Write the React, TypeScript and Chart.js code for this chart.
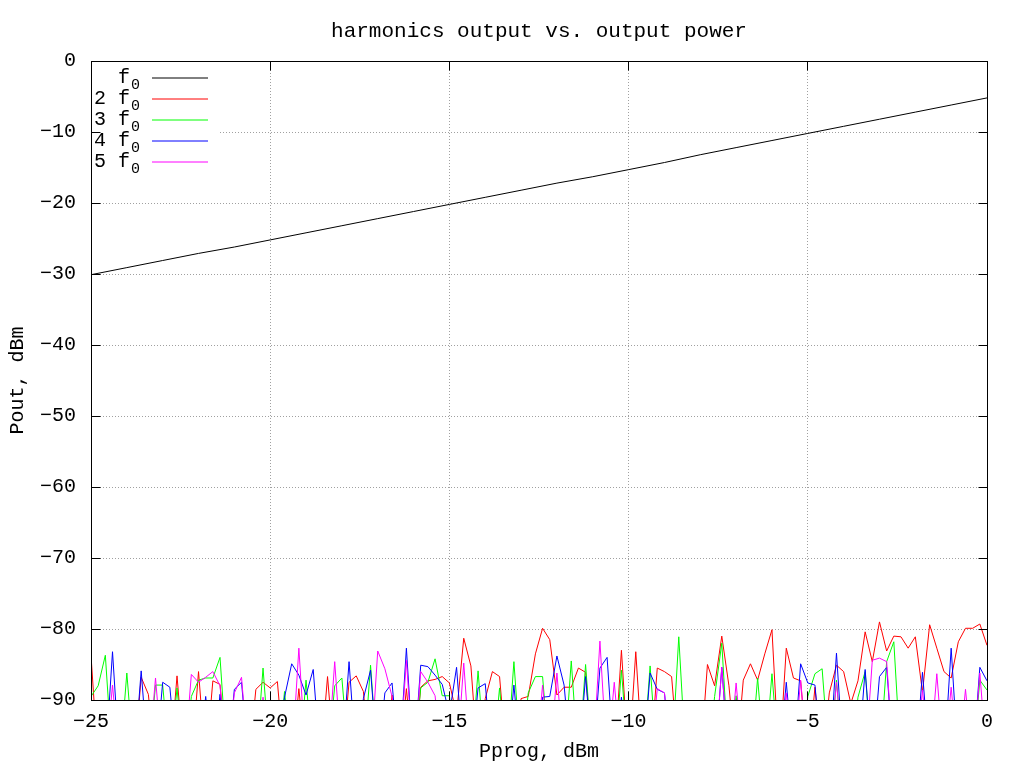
import React, { useEffect, useRef } from 'react';
import { Chart, registerables } from 'chart.js';

Chart.register(...registerables);

// Marker for samples that fall below the -90 dBm floor of the plot (clipped, as in gnuplot)
const F = -99;

const TITLE = 'harmonics output vs. output power';
const X_TITLE = 'Pprog, dBm';
const Y_TITLE = 'Pout, dBm';

const X_MIN = -25;
const X_MAX = 0;
const X_STEP = 5;
const Y_MIN = -90;
const Y_MAX = 0;
const Y_STEP = 10;

// Fundamental: read at 1 dBm steps
const PPROG_FUND = [-25, -24, -23, -22, -21, -20, -19, -18, -17, -16, -15, -14, -13, -12, -11, -10, -9, -8, -7, -6, -5, -4, -3, -2, -1, 0];
const POUT_F0 = [-30.1, -29.1, -28.1, -27.1, -26.2, -25.2, -24.2, -23.2, -22.2, -21.2, -20.2, -19.2, -18.2, -17.2, -16.3, -15.3, -14.3, -13.2, -12.2, -11.2, -10.2, -9.2, -8.2, -7.2, -6.2, -5.2];

// Harmonics: sampled every 0.2 dBm from -25 to 0 (126 samples)
const PPROG_HARM = Array.from({ length: 126 }, (_, i) => Math.round((-25 + i * 0.2) * 10) / 10);

const POUT_2F0 = [
  -83.7, F, F, F, F, F, F, -86.8, -89.2, F,
  F, F, -86.6, F, F, -86, F, -87.3, -87.8, F,
  F, F, F, -88.5, -87.5, -88.3, -87.4, F, F, -88.4,
  F, F, F, -86.7, F, F, -87.5, -86.6, -88.8, F,
  F, F, -89.3, F, -88.4, F, -88.2, -87.3, -87.1, -86.7,
  -87.6, -92, -81.3, -85.2, F, -89.8, -86, -86.7, F, F,
  -89.8, -89.5, -83.5, -79.9, -81.5, -89.3, -88.2, -88.2, -85.5, -86.1,
  F, F, F, F, -83, F, -83.2, F, F, -85.5,
  -86, -86.7, F, F, F, F, -85, -88, -81, -88,
  F, -87.2, -84.9, -87.2, -83.5, -80.1, F, -82.7, -86.9, -87.3,
  F, -88.2, F, -89, -85.1, -86, -90.5, -87.3, -80.4, -84.6,
  -79, -83.1, -81, -81.1, -82.7, -81.1, -88.9, -79.4, -82.7, -86,
  -86.9, -81.8, -79.9, -79.9, -79.3, -82.3,
];

const POUT_3F0 = [
  -89.5, -88, -83.7, F, F, -86.2, F, F, F, -87.9,
  -87.9, F, -88.3, F, -89.5, -87.2, -86.9, -86.9, -84, F,
  F, F, F, F, -85.5, F, F, -88.8, F, F,
  -87.2, F, F, F, -88, -86.9, F, F, F, -85.1,
  F, F, F, F, F, F, -88.3, -87.5, -84.2, -89.4,
  -89.4, F, F, F, -85.9, F, F, -88.3, F, -84.6,
  F, -89, -86.7, -86.7, F, F, F, -84.5, F, -85,
  F, F, F, F, -85.8, F, F, F, -85.2, F,
  F, F, -81.1, F, F, F, F, -89.5, -82, F,
  -89.4, F, F, -86.9, F, -86.3, F, F, F, F,
  -89.5, -86.3, -85.6, F, -87.2, F, F, -89.6, -86, F,
  F, -84.6, -81.8, F, F, F, F, F, F, F,
  F, F, F, F, -87.2, -88.6,
];

const POUT_4F0 = [
  F, F, F, -83.2, F, F, F, -85.9, F, F,
  -87.5, -88.2, F, F, F, F, -89.5, F, -89.2, F,
  -88.5, -87.5, F, F, F, F, F, -89.6, -84.9, -86.5,
  -89.3, -85.7, F, F, F, F, -84.6, F, -89.8, -85.8,
  F, -89, -87.6, F, -82.7, F, -85.1, -85.3, -86.5, -87.8,
  -92, -85.4, F, F, -88.3, -87.7, F, F, F, -87.9,
  F, F, F, -89.6, -89.5, -83.8, -87.9, F, F, -86.7,
  F, -85.5, -84, F, -89.6, F, F, F, -86.2, -88.5,
  -89, F, F, F, F, F, F, F, -85.4, F,
  F, F, F, F, F, F, F, -87.5, F, -84.9,
  -87.6, -87.9, F, F, -83.4, F, F, F, -85.7, F,
  -86.7, -85.4, F, F, F, F, -86.1, F, F, F,
  -82.7, F, F, F, -85.4, -87.3,
];

const POUT_5F0 = [
  F, F, F, -87.9, F, F, F, F, F, -86.9,
  F, F, F, F, -86.4, -87.5, -86.8, -86, -88, F,
  -89, -86.8, F, F, -89.6, F, F, F, F, -82.7,
  F, F, F, F, -84.6, F, F, F, F, F,
  -83.1, -85.6, -89.5, F, -84.4, F, -86, -87.5, -89.4, F,
  F, F, -84.8, F, F, F, F, F, F, F,
  F, F, F, -87.9, F, -86.2, F, F, F, F,
  F, -81.7, F, -87.5, F, F, F, F, F, -88.4,
  -89, F, F, F, F, F, F, F, -85.4, F,
  -87.6, F, F, F, F, F, F, -89, F, -87.2,
  F, F, F, F, -87.5, F, F, F, F, -84.4,
  -84.1, -84.6, F, F, F, F, -88.6, F, -86.3, F,
  -88.2, F, -88.5, F, -86.2, F,
];

// "_" marks the start of a subscript, as in gnuplot enhanced text
const SERIES_LABELS = ['f_0', '2 f_0', '3 f_0', '4 f_0', '5 f_0'];
const SERIES_COLORS = ['#000000', '#ff0000', '#00ff00', '#0000ff', '#ff00ff'];

const FONT_FAMILY = '"Liberation Mono", "DejaVu Sans Mono", monospace';
const GRID_COLOR = '#a0a0a0';

const fmt = (v: number | string) => {
  const n = Number(v);
  return n < 0 ? '\u2212' + Math.abs(n) : String(n);
};

const zip = (xs: number[], ys: number[]) => xs.map((x, i) => ({ x, y: ys[i] }));

const gnuplotPlugin = {
  id: 'gnuplotFrame',
  beforeDatasetsDraw(chart: any) {
    const { ctx, chartArea: a, scales } = chart;
    ctx.save();
    // title, centred over the plot area
    ctx.fillStyle = '#000';
    ctx.font = `21px ${FONT_FAMILY}`;
    ctx.textAlign = 'center';
    ctx.textBaseline = 'middle';
    ctx.fillText(TITLE, (a.left + a.right) / 2, 31);
    // dotted grid
    ctx.strokeStyle = GRID_COLOR;
    ctx.lineWidth = 1;
    ctx.setLineDash([1, 2]);
    for (const t of scales.x.ticks) {
      const p = Math.floor(scales.x.getPixelForValue(t.value)) + 0.5;
      if (p <= a.left + 1 || p >= a.right - 1) continue;
      ctx.beginPath();
      ctx.moveTo(p, a.top);
      ctx.lineTo(p, a.bottom);
      ctx.stroke();
    }
    for (const t of scales.y.ticks) {
      const p = Math.floor(scales.y.getPixelForValue(t.value)) + 0.5;
      if (p <= a.top + 1 || p >= a.bottom - 1) continue;
      ctx.beginPath();
      ctx.moveTo(a.left, p);
      ctx.lineTo(a.right, p);
      ctx.stroke();
    }
    ctx.restore();
  },
  afterDatasetsDraw(chart: any) {
    const { ctx, chartArea: a, scales } = chart;
    ctx.save();
    // opaque key box
    ctx.fillStyle = '#ffffff';
    ctx.fillRect(a.left + 1, a.top + 1, 128, 110);
    // key entries
    chart.data.datasets.forEach((ds: any, i: number) => {
      const y = a.top + 17.3 + 21 * i;
      const [main, sub] = String(ds.label).split('_');
      ctx.fillStyle = '#000';
      ctx.textBaseline = 'middle';
      ctx.font = `20px ${FONT_FAMILY}`;
      ctx.textAlign = 'right';
      ctx.fillText(main, a.left + 39, y - 0.5);
      if (sub) {
        ctx.font = `15px ${FONT_FAMILY}`;
        ctx.textAlign = 'left';
        ctx.fillText(sub, a.left + 40, y + 7);
      }
      ctx.strokeStyle = ds.borderColor;
      ctx.lineWidth = 1;
      ctx.beginPath();
      ctx.moveTo(a.left + 61, Math.round(y));
      ctx.lineTo(a.left + 117, Math.round(y));
      ctx.stroke();
    });
    // border
    ctx.strokeStyle = '#000';
    ctx.lineWidth = 1;
    const L = Math.floor(a.left) + 0.5;
    const R = Math.floor(a.right) + 0.5;
    const T = Math.floor(a.top) + 0.5;
    const B = Math.floor(a.bottom) + 0.5;
    ctx.strokeRect(L, T, R - L, B - T);
    // inward major ticks on all four sides
    const TL = 9;
    ctx.beginPath();
    for (const t of scales.x.ticks) {
      const p = Math.floor(scales.x.getPixelForValue(t.value)) + 0.5;
      ctx.moveTo(p, B);
      ctx.lineTo(p, B - TL);
      ctx.moveTo(p, T);
      ctx.lineTo(p, T + TL);
    }
    for (const t of scales.y.ticks) {
      const p = Math.floor(scales.y.getPixelForValue(t.value)) + 0.5;
      ctx.moveTo(L, p);
      ctx.lineTo(L + TL, p);
      ctx.moveTo(R, p);
      ctx.lineTo(R - TL, p);
    }
    ctx.stroke();
    ctx.restore();
  },
};

export default function App() {
  const canvasRef = useRef<HTMLCanvasElement | null>(null);

  useEffect(() => {
    if (!canvasRef.current) return;
    const harm = [POUT_2F0, POUT_3F0, POUT_4F0, POUT_5F0];
    const datasets = [
      {
        label: SERIES_LABELS[0],
        data: zip(PPROG_FUND, POUT_F0),
        borderColor: SERIES_COLORS[0],
        order: 5,
      },
      ...harm.map((ys, k) => ({
        label: SERIES_LABELS[k + 1],
        data: zip(PPROG_HARM, ys),
        borderColor: SERIES_COLORS[k + 1],
        order: 4 - k,
      })),
    ].map((d) => ({
      ...d,
      borderWidth: 1,
      pointRadius: 0,
      tension: 0,
      fill: false,
    }));

    const tickFont = { family: FONT_FAMILY, size: 20, weight: 'normal' as const };

    const chart = new Chart(canvasRef.current, {
      type: 'line',
      data: { datasets },
      options: {
        animation: false,
        responsive: true,
        maintainAspectRatio: false,
        layout: { padding: { left: 0, right: 36, top: 61, bottom: 0 } },
        plugins: {
          legend: { display: false },
          tooltip: { enabled: false },
          title: { display: false },
        },
        scales: {
          x: {
            type: 'linear',
            min: X_MIN,
            max: X_MAX,
            grid: { display: false, drawTicks: false },
            border: { display: false },
            ticks: {
              stepSize: X_STEP,
              padding: 10,
              color: '#000',
              font: tickFont,
              maxRotation: 0,
              autoSkip: false,
              callback: (v: any) => fmt(v),
            },
            title: {
              display: true,
              text: X_TITLE,
              color: '#000',
              font: tickFont,
              padding: { top: 0, bottom: 3 },
            },
            afterFit: (s: any) => {
              s.height = 67;
            },
          },
          y: {
            type: 'linear',
            min: Y_MIN,
            max: Y_MAX,
            grid: { display: false, drawTicks: false },
            border: { display: false },
            ticks: {
              stepSize: Y_STEP,
              padding: 15,
              color: '#000',
              font: tickFont,
              autoSkip: false,
              callback: (v: any) => fmt(v),
            },
            title: {
              display: true,
              text: Y_TITLE,
              color: '#000',
              font: tickFont,
              padding: { top: 6, bottom: 0 },
            },
            afterFit: (s: any) => {
              s.width = 91;
            },
          },
        },
      } as any,
      plugins: [gnuplotPlugin],
    });
    return () => chart.destroy();
  }, []);

  return (
    <div style={{ position: 'fixed', left: 0, top: 0, width: 1023, height: 767, background: '#ffffff' }}>
      <canvas ref={canvasRef} />
    </div>
  );
}
